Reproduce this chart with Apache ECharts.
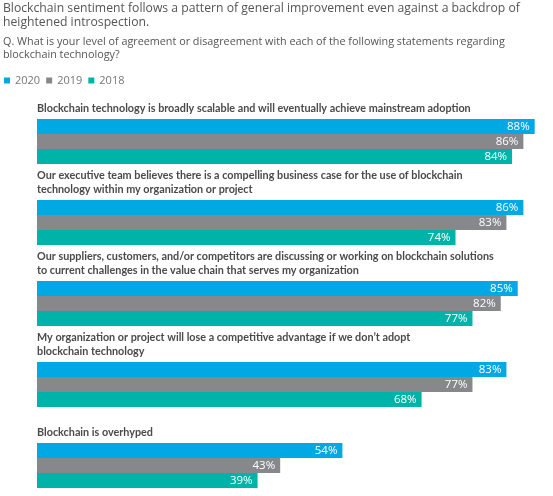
<!DOCTYPE html>
<html>
<head>
<meta charset="utf-8">
<script src="https://cdn.jsdelivr.net/npm/echarts@6/dist/echarts.min.js"></script>
<style>html,body{margin:0;padding:0;background:#fff}#c{width:553px;height:496px}</style>
</head>
<body>
<div id="c"></div>
<script>
const categories = [
  "Blockchain technology is broadly scalable and will eventually achieve mainstream adoption",
  "Our executive team believes there is a compelling business case for the use of blockchain\ntechnology within my organization or project",
  "Our suppliers, customers, and/or competitors are discussing or working on blockchain solutions\nto current challenges in the value chain that serves my organization",
  "My organization or project will lose a competitive advantage if we don\u2019t adopt\nblockchain technology",
  "Blockchain is overhyped"
];
const years = ["2020", "2019", "2018"];
const values2020 = [88, 86, 85, 83, 54];
const values2019 = [86, 83, 82, 77, 43];
const values2018 = [84, 74, 77, 68, 39];
const colors = ["#00a9e4", "#86888b", "#00b3a9"];

const chart = echarts.init(document.getElementById('c'));
const mk = (name, data, color) => ({
  name, type: 'bar', data, barWidth: 15, barGap: '0%',
  itemStyle: { color },
  label: { show: true, position: 'insideRight', distance: 5, formatter: '{c}%',
           color: '#fff', fontSize: 11.5, fontFamily: "'Open Sans', sans-serif" },
  emphasis: { disabled: true }, animation: false
});
chart.setOption({
  animation: false,
  title: {
    text: "Blockchain sentiment follows a pattern of general improvement even against a backdrop of\nheightened introspection.",
    subtext: "Q. What is your level of agreement or disagreement with each of the following statements regarding\nblockchain technology?",
    left: 3, top: 2, itemGap: 5, padding: 0,
    textStyle: { fontFamily: "'Open Sans', sans-serif", fontSize: 12.2, fontWeight: 'normal', color: '#555', lineHeight: 14 },
    subtextStyle: { fontFamily: "'Open Sans', sans-serif", fontSize: 10.8, color: '#555', lineHeight: 13 }
  },
  legend: {
    data: years, left: 4, top: 75, padding: 0, icon: 'rect', itemWidth: 6, itemHeight: 6, itemGap: 6,
    textStyle: { fontFamily: "'Open Sans', sans-serif", fontSize: 11, color: '#777' },
    selectedMode: false
  },
  grid: { left: 37, top: 101, width: 509, height: 405, containLabel: false, outerBoundsMode: 'none' },
  xAxis: { type: 'value', min: 0, max: 90, show: false },
  yAxis: {
    type: 'category', data: categories, inverse: true,
    axisLine: { show: false }, axisTick: { show: false },
    axisLabel: {
      inside: true, margin: 0, align: 'left', verticalAlign: 'bottom',
      padding: [0, 0, 26, 0], lineHeight: 14,
      fontFamily: "Lato, sans-serif",
      fontWeight: 'bold', fontSize: 10.8, color: '#4a4a4a'
    }
  },
  series: [mk(years[0], values2020, colors[0]), mk(years[1], values2019, colors[1]), mk(years[2], values2018, colors[2])]
});
</script>
</body>
</html>
